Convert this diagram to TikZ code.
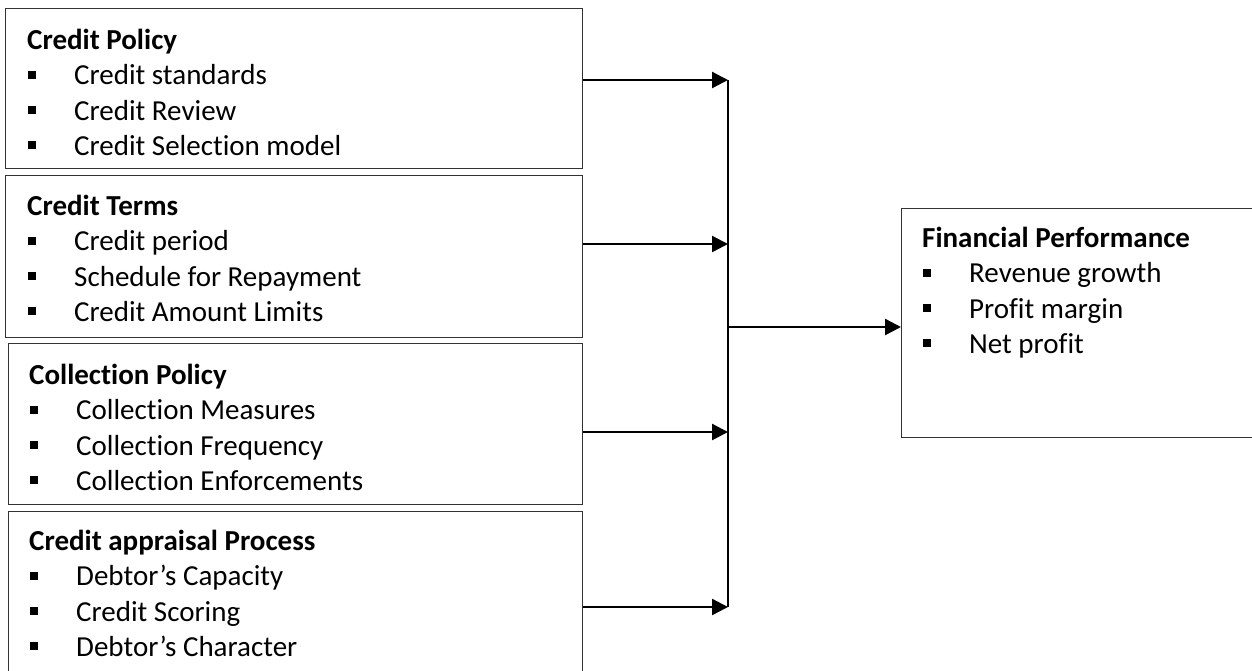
\documentclass[tikz,border=0pt]{standalone}
\usepackage{fontspec}
\setmainfont{Carlito}[Ligatures=NoCommon]
\usetikzlibrary{arrows.meta,positioning}

\newcommand{\bul}{\makebox[47pt][l]{\hspace{1pt}\rule[6pt]{8pt}{8pt}}}

\tikzset{
  factor/.style={draw=black!80, line width=1.1pt, anchor=north west, inner sep=0pt},
  itemlist/.style={anchor=north west, align=left, inner sep=0pt, font=\fontsize{29}{35.3}\selectfont},
  link/.style={line width=2.4pt, -{Triangle[length=16pt,width=16pt]}},
}

\begin{document}
\begin{tikzpicture}[x=1pt,y=-1pt]
\useasboundingbox (0,0) rectangle (1252,670);

% boxes
\node[factor, minimum width=577pt, minimum height=160pt] (pol) at (5,8) {};
\node[factor, minimum width=577pt, minimum height=162pt] (terms) at (5,175) {};
\node[factor, minimum width=574pt, minimum height=161pt] (coll) at (8,343) {};
\node[factor, minimum width=574pt, minimum height=190pt] (appr) at (8,511) {};
\node[factor, minimum width=400pt, minimum height=229pt] (perf) at (901,208) {};

% texts
\node[itemlist] (poltxt) at ([shift={(22,21)}]pol.north west)
  {\textbf{Credit Policy}\\ \bul Credit standards\\ \bul Credit Review\\ \bul Credit Selection model};
\node[itemlist] (termstxt) at ([shift={(22,20)}]terms.north west)
  {\textbf{Credit Terms}\\ \bul Credit period\\ \bul Schedule for Repayment\\ \bul Credit Amount Limits};
\node[itemlist] (colltxt) at ([shift={(21,21)}]coll.north west)
  {\textbf{Collection Policy}\\ \bul Collection Measures\\ \bul Collection Frequency\\ \bul Collection Enforcements};
\node[itemlist] (apprtxt) at ([shift={(21,19)}]appr.north west)
  {\textbf{Credit appraisal Process}\\ \bul Debtor’s Capacity\\ \bul Credit Scoring\\ \bul Debtor’s Character};
\node[itemlist] (perftxt) at ([shift={(21,19)}]perf.north west)
  {\textbf{Financial Performance}\\ \bul Revenue growth\\ \bul Profit margin\\ \bul Net profit};

% connectors
\coordinate (j1) at (728,80);
\coordinate (j2) at (728,244);
\coordinate (j3) at (728,432);
\coordinate (j4) at (728,607);
\coordinate (jm) at (728,327);
\draw[link] (pol.east |- j1) -- (j1);
\draw[link] (terms.east |- j2) -- (j2);
\draw[link] (coll.east |- j3) -- (j3);
\draw[link] (appr.east |- j4) -- (j4);
\draw[line width=1.6pt] (j1) -- (j4);
\draw[link] (jm) -- (perf.west |- jm);
\end{tikzpicture}
\end{document}
